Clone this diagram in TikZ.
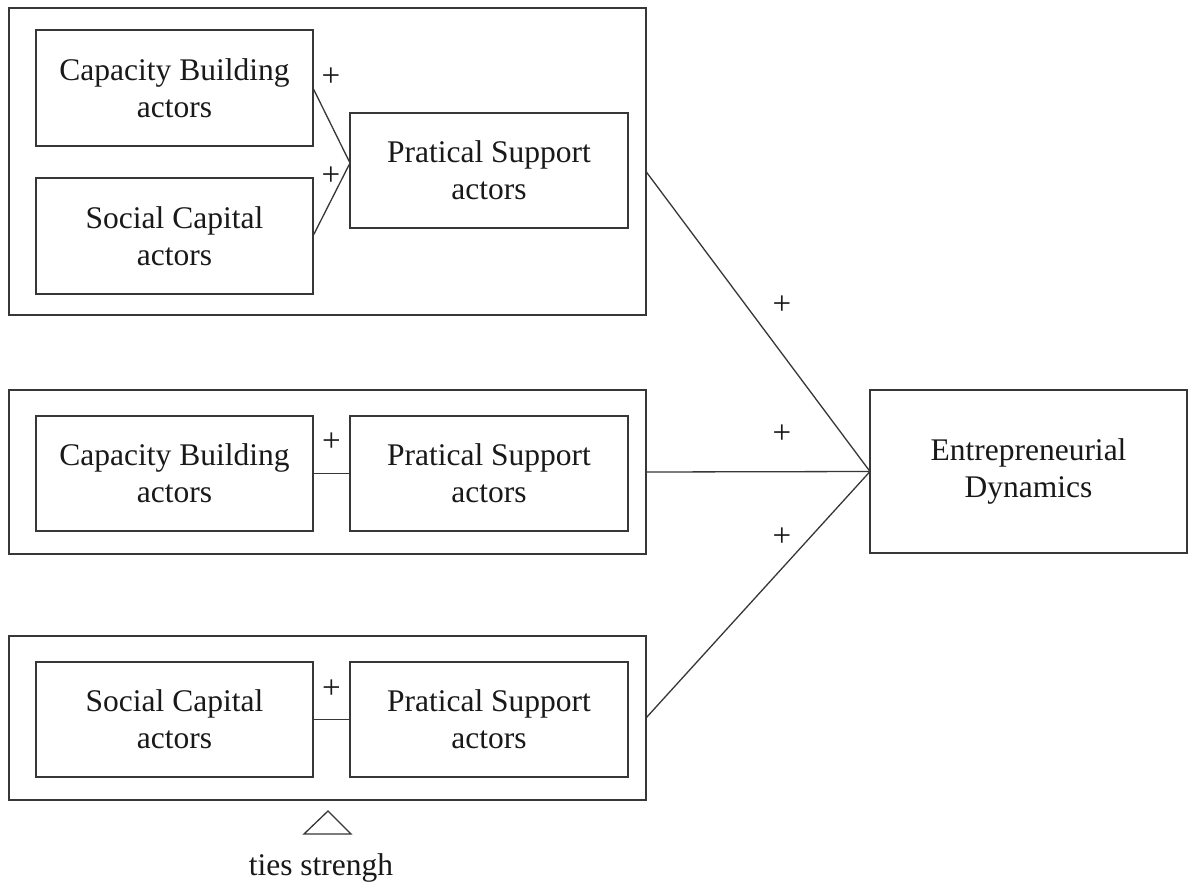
\documentclass[tikz,border=0pt]{standalone}
\usepackage{fontspec}
\setmainfont{Liberation Serif}
\usetikzlibrary{calc}
\definecolor{linec}{RGB}{55,55,55}
\definecolor{textc}{RGB}{25,25,25}
\begin{document}
\begin{tikzpicture}[x=1pt,y=-1pt,
  box/.style={draw=linec, line width=1.3pt, rectangle, inner sep=0pt, outer sep=0pt,
    align=center, text=textc, font=\fontsize{31.5}{37}\selectfont},
  frame/.style={draw=linec, line width=1.3pt, rectangle, inner sep=0pt, outer sep=0pt},
  conn/.style={draw=linec, line width=1.3pt},
  plus/.style={inner sep=0pt, text=textc, font=\fontsize{33}{36}\selectfont},
  lbl/.style={inner sep=0pt, text=textc, font=\fontsize{31.5}{37}\selectfont}]
\useasboundingbox[fill=white] (0,0) rectangle (1189,883);

% group 1
\node[frame, minimum width=637, minimum height=307] (outer1) at (327.5,161.5) {};
\node[box, minimum width=277, minimum height=116] (cb1) at (174.5,88) {Capacity Building\\actors};
\node[box, minimum width=277, minimum height=116] (sc1) at (174.5,236) {Social Capital\\actors};
\node[box, minimum width=278, minimum height=115] (ps1) at (489,170.5) {Pratical Support\\actors};
\coordinate (j1) at ($(ps1.west)+(0,-7.5)$);
\draw[conn] (cb1.east) -- (j1);
\draw[conn] (sc1.east) -- (j1);
\node[plus] (p1) at (331,77) {+};
\node[plus] (p2) at (331,176) {+};

% group 2
\node[frame, minimum width=637, minimum height=164] (outer2) at (327.5,472) {};
\node[box, minimum width=277, minimum height=115] (cb2) at (174.5,473.5) {Capacity Building\\actors};
\node[box, minimum width=278, minimum height=115] (ps2) at (489,473.5) {Pratical Support\\actors};
\draw[conn] (cb2.east) -- (ps2.west);
\node[plus] (p3) at (331.5,442) {+};

% group 3
\node[frame, minimum width=637, minimum height=164] (outer3) at (327.5,718) {};
\node[box, minimum width=277, minimum height=115] (sc3) at (174.5,719.5) {Social Capital\\actors};
\node[box, minimum width=278, minimum height=115] (ps3) at (489,719.5) {Pratical Support\\actors};
\draw[conn] (sc3.east) -- (ps3.west);
\node[plus] (p4) at (331.5,689) {+};

% outcome
\node[box, minimum width=317, minimum height=163] (ed) at (1028.5,471.5) {Entrepreneurial\\Dynamics};
\coordinate (o1) at ($(outer1.east)+(0,10)$);
\draw[conn] (o1) -- (ed.west);
\draw[conn] (outer2.east) -- (ed.west);
\draw[conn] (outer3.east) -- (ed.west);
\node[plus] (p5) at (782,305) {+};
\node[plus] (p6) at (782,434) {+};
\node[plus] (p7) at (782,537) {+};

% ties strength
\coordinate (ta) at (328,811);
\coordinate (tb) at (351,834);
\coordinate (tc) at (304,834);
\draw[conn, line join=miter] (ta) -- (tb) -- (tc) -- cycle;
\node[lbl, anchor=base] (ties) at (321,875) {ties strengh};
\end{tikzpicture}
\end{document}
